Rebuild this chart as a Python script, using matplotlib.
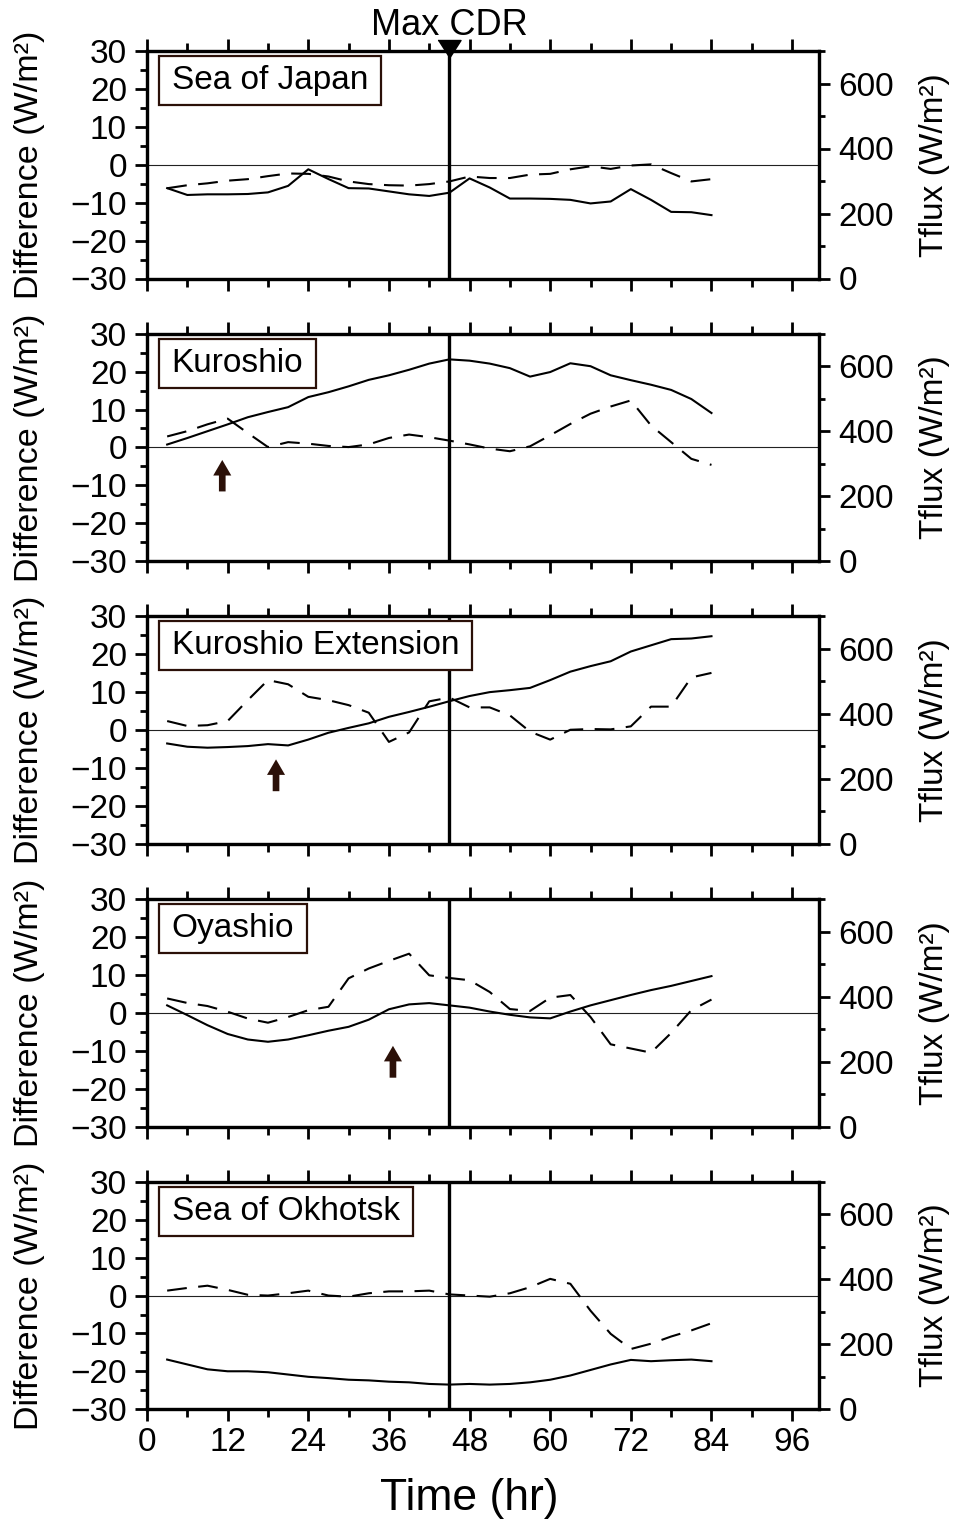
import matplotlib
matplotlib.use("Agg")
import matplotlib.pyplot as plt
from matplotlib.ticker import MultipleLocator
from matplotlib.patches import Rectangle

plt.rcParams['font.family'] = ['Liberation Sans', 'DejaVu Sans']
plt.rcParams['axes.unicode_minus'] = True

# ---------------- data ----------------
time_hr = [3, 6, 9, 12, 15, 18, 21, 24, 27, 30, 33, 36, 39, 42,
           45, 48, 51, 54, 57, 60, 63, 66, 69, 72, 75, 78, 81, 84]

regions = ["Sea of Japan", "Kuroshio", "Kuroshio Extension", "Oyashio", "Sea of Okhotsk"]

# Difference (W/m^2) -- dashed, left axis
diff_japan = [-6.2, -5.4, -4.9, -4.2, -3.8, -3.0, -2.3, -2.4, -3.1, -4.4, -5.1, -5.4, -5.5, -5.1,
              -4.4, -3.1, -3.5, -3.5, -2.6, -2.4, -1.2, -0.4, -1.1, -0.2, 0.1, -2.2, -4.4, -3.8]
diff_kuroshio = [2.9, 4.3, 6.1, 7.6, 3.8, 0.1, 1.4, 1.0, 0.4, 0.1, 0.8, 2.5, 3.4, 2.7,
                 1.8, 0.8, -0.3, -1.0, 0.3, 3.2, 6.2, 8.9, 10.8, 12.4, 5.8, 1.4, -3.0, -4.6]
diff_kuroext = [2.4, 1.1, 1.3, 2.4, 7.9, 13.2, 12.1, 8.8, 7.9, 6.6, 4.6, -3.1, -0.6, 7.6,
                8.6, 6.0, 6.0, 3.9, -0.4, -2.5, 0.1, 0.3, 0.2, 1.0, 6.2, 6.2, 13.9, 15.1]
diff_oyashio = [3.8, 2.6, 1.8, 0.3, -1.5, -2.6, -1.1, 0.7, 1.6, 9.1, 11.7, 13.7, 15.6, 9.9,
                9.2, 8.6, 5.5, 1.0, 0.5, 4.0, 4.7, -1.1, -8.3, -9.4, -10.5, -5.3, 0.7, 3.5]
diff_okhotsk = [1.3, 2.0, 2.6, 1.5, 0.2, 0.0, 0.6, 1.3, 0.0, -0.3, 0.6, 1.1, 1.1, 1.3,
                0.3, 0.0, -0.3, 0.6, 2.2, 4.4, 3.1, -4.0, -10.1, -14.1, -12.7, -10.8, -9.2, -7.3]

# Tflux (W/m^2) -- solid, right axis
tflux_japan = [278, 257, 259, 259, 260, 265, 285, 336, 306, 278, 277, 268, 259, 254,
               264, 308, 280, 246, 246, 245, 242, 231, 237, 275, 242, 205, 204, 195]
tflux_kuroshio = [359, 379, 400, 421, 443, 459, 474, 505, 520, 538, 558, 572, 589, 608,
                  621, 617, 608, 594, 568, 582, 609, 600, 572, 557, 543, 527, 499, 456]
tflux_kuroext = [309, 299, 296, 298, 301, 307, 303, 321, 342, 357, 371, 391, 406, 422,
                 439, 455, 467, 473, 480, 504, 530, 547, 562, 592, 611, 630, 632, 639]
tflux_oyashio = [373, 343, 312, 285, 268, 261, 268, 281, 295, 307, 329, 361, 376, 380,
                 373, 366, 354, 344, 336, 333, 354, 373, 389, 405, 420, 433, 448, 463]
tflux_okhotsk = [153, 138, 123, 117, 117, 114, 107, 100, 96, 91, 89, 85, 83, 78,
                 76, 78, 76, 78, 83, 91, 104, 121, 138, 152, 148, 151, 153, 148]

diff_series = [diff_japan, diff_kuroshio, diff_kuroext, diff_oyashio, diff_okhotsk]
tflux_series = [tflux_japan, tflux_kuroshio, tflux_kuroext, tflux_oyashio, tflux_okhotsk]

max_cdr_time = 45
# upward arrows: panel index -> (time, arrow tip value, arrow tail value) in Difference units
arrows = {1: (11.2, -3.3, -11.6), 2: (19.2, -7.7, -16.1), 3: (36.6, -8.7, -17.1)}

# ---------------- layout ----------------
W, H = 957, 1523
fig = plt.figure(figsize=(W / 100, H / 100), dpi=100)
left_px, right_px = 147, 819
panel_h = 227.5
tops = [51 + k * 282.7 for k in range(5)]

brown = '#2b1008'
spine_lw = 2.3
tick_fs = 24

label_texts = []
for k in range(5):
    top = tops[k]
    rect = [left_px / W, 1 - (top + panel_h) / H, (right_px - left_px) / W, panel_h / H]
    ax = fig.add_axes(rect)
    ax.set_xlim(0, 100)
    ax.set_ylim(-30, 30)
    ax.axhline(0, color='#222222', lw=0.8, zorder=1)
    ax.plot(time_hr, diff_series[k], color='k', lw=1.5, ls=(0, (9.5, 5.5)), zorder=3)
    ax.axvline(max_cdr_time, color='k', lw=2.4, zorder=4)

    ax.xaxis.set_major_locator(MultipleLocator(12))
    ax.xaxis.set_minor_locator(MultipleLocator(6))
    ax.yaxis.set_major_locator(MultipleLocator(10))
    ax.yaxis.set_minor_locator(MultipleLocator(5))
    ax.tick_params(axis='x', which='both', direction='out', top=True, bottom=True,
                   width=2.0, labelsize=tick_fs, labelbottom=(k == 4), pad=4)
    ax.tick_params(axis='x', which='major', length=8.6)
    ax.tick_params(axis='x', which='minor', length=5.5)
    ax.tick_params(axis='y', which='both', direction='out', left=True, right=False,
                   width=2.0, labelsize=tick_fs, pad=6)
    ax.tick_params(axis='y', which='major', length=8.4)
    ax.tick_params(axis='y', which='minor', length=4.8)
    for s in ax.spines.values():
        s.set_linewidth(spine_lw)

    tw = ax.twinx()
    tw.set_ylim(0, 700)
    tw.plot(time_hr, tflux_series[k], color='k', lw=1.5, zorder=3)
    tw.yaxis.set_major_locator(MultipleLocator(200))
    tw.yaxis.set_minor_locator(MultipleLocator(100))
    tw.tick_params(axis='y', which='both', direction='out', right=True, left=False,
                   width=2.0, labelsize=tick_fs, pad=6)
    tw.tick_params(axis='y', which='major', length=8.0)
    tw.tick_params(axis='y', which='minor', length=4.5)
    for s in tw.spines.values():
        s.set_linewidth(spine_lw)

    t_lbl = tw.text(0.0367, 1 - 14.0 / panel_h, regions[k], transform=ax.transAxes,
                    fontsize=24, ha='left', va='top', zorder=11)
    label_texts.append((tw, t_lbl))

    if k in arrows:
        t, tip, tail = arrows[k]
        ax.annotate('', xy=(t, tip), xytext=(t, tail),
                    arrowprops=dict(arrowstyle='simple,head_length=0.56,head_width=0.65,tail_width=0.24',
                                    fc=brown, ec=brown, lw=0, shrinkA=0, shrinkB=0,
                                    mutation_scale=20))

    yc = 1 - (top + panel_h / 2) / H
    fig.text(29.7 / W, yc, 'Difference (W/m²)', rotation=90, ha='center', va='center',
             fontsize=24.5)
    fig.text(934.7 / W, yc, 'Tflux (W/m²)', rotation=90, ha='center', va='center',
             fontsize=24)

    if k == 0:
        ax.plot([max_cdr_time], [30.47], marker=[(-1, 0.78), (1, 0.78), (0, -0.78)],
                ms=16.6, color='k', clip_on=False, zorder=6)
        fig.text(449 / W, 1 - 35 / H, 'Max CDR', ha='center', va='baseline', fontsize=26)

fig.text(469.5 / W, 1 - 1498.4 / H, 'Time (hr)', ha='center', va='center', fontsize=32)

# label boxes sized around the rendered text
fig.canvas.draw()
renderer = fig.canvas.get_renderer()
for tw, t_lbl in label_texts:
    bb = t_lbl.get_window_extent(renderer)
    x0, x1 = bb.x0 - 13, bb.x1 + 13
    y0, y1 = bb.y0 - 9, bb.y1 + 9
    inv = fig.transFigure.inverted()
    (fx0, fy0), (fx1, fy1) = inv.transform([(x0, y0), (x1, y1)])
    r = Rectangle((fx0, fy0), fx1 - fx0, fy1 - fy0, transform=fig.transFigure,
                  fc='white', ec=brown, lw=1.6, zorder=10)
    tw.add_artist(r)
    r.set_clip_on(False)

fig.savefig('out.png', dpi=100)
